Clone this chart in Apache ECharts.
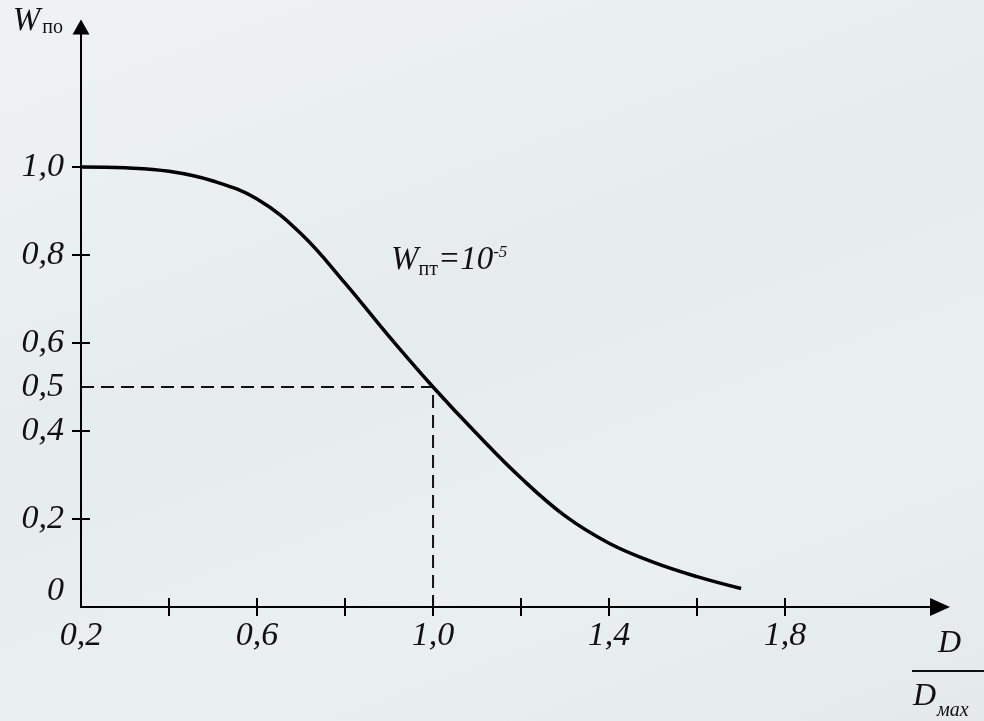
<!DOCTYPE html>
<html>
<head>
<meta charset="utf-8">
<script src="https://cdn.jsdelivr.net/npm/echarts@6/dist/echarts.min.js"></script>
<style>
  html, body { margin: 0; padding: 0; }
  #chart { width: 984px; height: 721px; background: linear-gradient(160deg, #eef2f3 0%, #e6ecee 45%, #eaeff0 70%, #e4eaec 100%); }
</style>
</head>
<body>
<div id="chart"></div>
<script>
  // кривая W_по(D / D_max)
  const dRatio = [0.2, 0.3, 0.4, 0.5, 0.6, 0.7, 0.8, 0.9, 1.0, 1.1, 1.2, 1.3, 1.4, 1.5, 1.6, 1.7]
  const wPo = [1.0, 0.998, 0.99, 0.968, 0.927, 0.848, 0.736, 0.615, 0.5, 0.393, 0.293, 0.207, 0.145, 0.102, 0.069, 0.042]
  // пунктир к точке (1,0; 0,5)
  const guideX = [0.2, 1.0, 1.0]
  const guideY = [0.5, 0.5, 0]
  const xTicks = [0.4, 0.6, 0.8, 1.0, 1.2, 1.4, 1.6, 1.8]
  const xLabels = [0.2, 0.6, 1.0, 1.4, 1.8]
  const yTicks = [0.2, 0.4, 0.6, 0.8, 1.0]
  const yLabels = [0, 0.2, 0.4, 0.5, 0.6, 0.8, 1.0]

  const serif = 'Liberation Serif'
  const fmt = (v) => v.toFixed(1).replace('.', ',')

  let myChart = echarts.init(document.getElementById('chart'))
  myChart.setOption({
    animation: false,
    grid: {
      left: 81,
      right: 44,
      top: 27,
      bottom: 114
    },
    xAxis: [{
      type: 'value',
      min: 0.2,
      max: 2.152,
      splitLine: { show: false },
      axisLine: {
        onZero: false,
        symbol: ['none', 'triangle'],
        symbolSize: [18, 20],
        lineStyle: { color: '#000', width: 2 }
      },
      axisTick: {
        customValues: xTicks,
        length: 9,
        lineStyle: { color: '#000', width: 2 }
      },
      axisLabel: {
        customValues: xLabels,
        formatter: fmt,
        margin: 12,
        color: '#111',
        fontFamily: serif,
        fontStyle: 'italic',
        fontSize: 34
      }
    }, {
      type: 'value',
      position: 'bottom',
      min: 0.2,
      max: 2.152,
      splitLine: { show: false },
      axisLine: { show: false, onZero: false },
      axisTick: {
        customValues: xTicks,
        inside: true,
        length: 9,
        lineStyle: { color: '#000', width: 2 }
      },
      axisLabel: { show: false }
    }],
    yAxis: [{
      type: 'value',
      min: 0,
      max: 1.318,
      name: '{w|W}{s|по}',
      nameLocation: 'end',
      nameGap: 6,
      nameTextStyle: {
        align: 'right',
        verticalAlign: 'middle',
        padding: [0, 18, 0, 0],
        rich: {
          w: { fontFamily: serif, fontStyle: 'italic', fontSize: 33, color: '#111', verticalAlign: 'bottom' },
          s: { fontFamily: serif, fontSize: 20, color: '#111', verticalAlign: 'bottom', padding: [0, 0, 0, 2] }
        }
      },
      splitLine: { show: false },
      axisLine: {
        onZero: false,
        symbol: ['none', 'triangle'],
        symbolSize: [17, 15],
        lineStyle: { color: '#000', width: 2 }
      },
      axisTick: {
        customValues: yTicks,
        length: 9,
        lineStyle: { color: '#000', width: 2 }
      },
      axisLabel: {
        customValues: yLabels,
        margin: 17,
        formatter: (v) => v === 0 ? '{z|0}' : fmt(v),
        color: '#111',
        fontFamily: serif,
        fontStyle: 'italic',
        fontSize: 34,
        rich: {
          z: { fontFamily: serif, fontStyle: 'italic', fontSize: 34, color: '#111', padding: [0, 0, 32, 0] }
        }
      }
    }, {
      type: 'value',
      position: 'left',
      min: 0,
      max: 1.318,
      splitLine: { show: false },
      axisLine: { show: false, onZero: false },
      axisTick: {
        customValues: yTicks,
        inside: true,
        length: 9,
        lineStyle: { color: '#000', width: 2 }
      },
      axisLabel: { show: false }
    }],
    series: [{
      name: 'W_по',
      type: 'line',
      data: dRatio.map((x, i) => [x, wPo[i]]),
      smooth: 0.4,
      symbol: 'none',
      lineStyle: { color: '#000', width: 3.5 },
      z: 3
    }, {
      name: 'guide',
      type: 'line',
      data: guideX.map((x, i) => [x, guideY[i]]),
      symbol: 'none',
      lineStyle: { color: '#111', width: 2, type: [13, 7] },
      z: 2
    }],
    graphic: [{
      type: 'text',
      left: 391,
      top: 244,
      style: {
        text: '{w|W}{s|пт}{t|=10}{p|-5}',
        rich: {
          w: { fontFamily: serif, fontStyle: 'italic', fontSize: 33, fill: '#111', verticalAlign: 'bottom' },
          s: { fontFamily: serif, fontSize: 20, fill: '#111', verticalAlign: 'bottom', padding: [0, 0, -3, 0] },
          t: { fontFamily: serif, fontStyle: 'italic', fontSize: 33, fill: '#111', verticalAlign: 'bottom' },
          p: { fontFamily: serif, fontStyle: 'italic', fontSize: 17, fill: '#111', verticalAlign: 'top' }
        }
      }
    }, {
      type: 'text',
      left: 938,
      top: 628,
      style: {
        text: 'D',
        fontFamily: serif,
        fontStyle: 'italic',
        fontSize: 32,
        fill: '#111'
      }
    }, {
      type: 'line',
      shape: { x1: 912, y1: 671, x2: 990, y2: 671 },
      style: { stroke: '#111', lineWidth: 2 }
    }, {
      type: 'text',
      left: 913,
      top: 681,
      style: {
        text: '{d|D}{s|мах}',
        rich: {
          d: { fontFamily: serif, fontStyle: 'italic', fontSize: 32, fill: '#111', verticalAlign: 'bottom' },
          s: { fontFamily: serif, fontStyle: 'italic', fontSize: 20, fill: '#111', verticalAlign: 'bottom', padding: [0, 0, -8, 1] }
        }
      }
    }]
  })
</script>
</body>
</html>
